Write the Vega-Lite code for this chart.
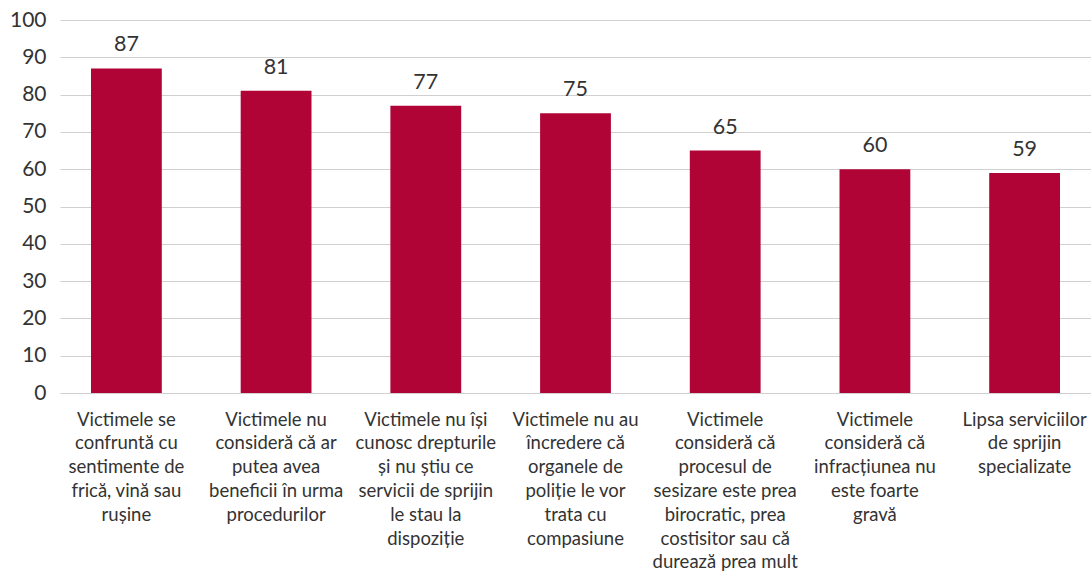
{
  "$schema": "https://vega.github.io/schema/vega-lite/v6.json",
  "autosize": {"type": "none"},
  "padding": {"left": 60, "top": 20, "right": 0, "bottom": 180},
  "width": 1031,
  "height": 373,
  "background": "white",
  "config": {
    "view": {"stroke": null},
    "font": "Lato",
    "axis": {"labelFont": "Lato", "labelColor": "#333333"}
  },
  "data": {
    "values": [
      {"cat": "Victimele se\nconfruntă cu\nsentimente de\nfrică, vină sau\nrușine", "value": 87},
      {"cat": "Victimele nu\nconsideră că ar\nputea avea\nbeneficii în urma\nprocedurilor", "value": 81},
      {"cat": "Victimele nu își\ncunosc drepturile\nși nu știu ce\nservicii de sprijin\nle stau la\ndispoziție", "value": 77},
      {"cat": "Victimele nu au\nîncredere că\norganele de\npoliție le vor\ntrata cu\ncompasiune", "value": 75},
      {"cat": "Victimele\nconsideră că\nprocesul de\nsesizare este prea\nbirocratic, prea\ncostisitor sau că\ndurează prea mult", "value": 65},
      {"cat": "Victimele\nconsideră că\ninfracțiunea nu\neste foarte\ngravă", "value": 60},
      {"cat": "Lipsa serviciilor\nde sprijin\nspecializate", "value": 59}
    ]
  },
  "encoding": {
    "x": {
      "field": "cat",
      "type": "nominal",
      "sort": null,
      "scale": {"paddingInner": 0.527, "paddingOuter": 0.207},
      "axis": {
        "title": null,
        "domain": false,
        "ticks": false,
        "labelAngle": 0,
        "labelExpr": "split(datum.label, '\\n')",
        "labelFontSize": 18.5,
        "labelLineHeight": 23.8,
        "labelPadding": 17,
        "labelBaseline": "top",
        "labelLimit": 200
      }
    },
    "y": {
      "field": "value",
      "type": "quantitative",
      "scale": {"domain": [0, 100]},
      "axis": {
        "title": null,
        "domain": false,
        "ticks": false,
        "values": [0, 10, 20, 30, 40, 50, 60, 70, 80, 90, 100],
        "gridColor": "#d0d0d0",
        "gridWidth": 1.2,
        "labelFontSize": 21,
        "labelPadding": 14
      }
    }
  },
  "layer": [
    {"mark": {"type": "bar", "color": "#b00437"}},
    {
      "mark": {"type": "text", "dy": -23, "fontSize": 21.5, "color": "#333333", "font": "Lato"},
      "encoding": {"text": {"field": "value", "type": "quantitative"}}
    }
  ]
}
